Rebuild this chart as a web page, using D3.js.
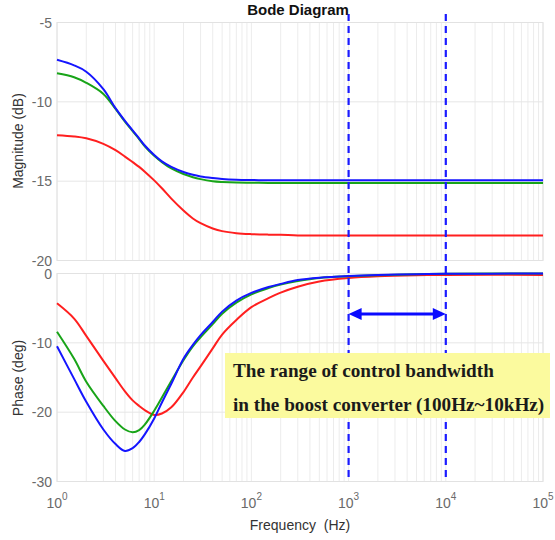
<!DOCTYPE html>
<html>
<head>
<meta charset="utf-8">
<script src="https://cdn.jsdelivr.net/npm/d3@7"></script>
<style>
  html, body { margin: 0; padding: 0; background: #fff; }
  svg { display: block; }
</style>
</head>
<body>
<svg id="chart" width="555" height="540"></svg>
<script>
// Frequency samples (Hz) shared by all three responses
const freqs = [1, 1.5, 2, 3, 4, 5, 6, 7, 8, 10, 12, 15, 20, 25, 30, 40, 50, 70, 100, 150, 200, 300, 500, 1000, 2000, 5000, 10000, 100000];

// Magnitude responses (dB)
const magBlue  = [-7.35, -7.7, -8.1, -9.2, -10.4, -11.2, -11.8, -12.3, -12.75, -13.35, -13.75, -14.1, -14.42, -14.6, -14.7, -14.8, -14.86, -14.91, -14.93, -14.94, -14.95, -14.95, -14.95, -14.95, -14.95, -14.95, -14.95, -14.95];
const magGreen = [-8.2, -8.45, -8.8, -9.5, -10.45, -11.25, -11.85, -12.35, -12.8, -13.4, -13.8, -14.2, -14.55, -14.75, -14.87, -15.0, -15.05, -15.09, -15.1, -15.11, -15.12, -15.12, -15.12, -15.12, -15.12, -15.12, -15.12, -15.12];
const magRed   = [-12.1, -12.18, -12.3, -12.65, -13.05, -13.45, -13.8, -14.1, -14.4, -14.95, -15.45, -16.1, -16.85, -17.35, -17.65, -17.98, -18.15, -18.28, -18.34, -18.37, -18.38, -18.42, -18.42, -18.42, -18.42, -18.42, -18.42, -18.42];

// Phase responses (deg)
const phBlue  = [-10.5, -15.2, -18.5, -22.5, -24.6, -25.6, -25.2, -24.3, -23.2, -20.9, -18.6, -15.9, -12.3, -10.3, -8.9, -7.0, -5.5, -3.9, -2.8, -1.95, -1.5, -0.95, -0.6, -0.35, -0.2, -0.1, -0.05, 0];
const phGreen = [-8.4, -12.3, -15.6, -19.1, -21.3, -22.5, -22.9, -22.6, -21.8, -19.8, -17.9, -15.5, -12.5, -10.5, -9.2, -7.3, -5.8, -4.2, -3.0, -2.1, -1.6, -1.1, -0.65, -0.4, -0.25, -0.12, -0.05, 0];
const phRed   = [-4.3, -6.5, -9.0, -12.6, -15.1, -17.0, -18.3, -19.1, -19.7, -20.4, -20.2, -19.3, -17.1, -15.0, -13.4, -10.8, -8.8, -6.7, -4.85, -3.55, -2.75, -1.9, -1.15, -0.65, -0.4, -0.25, -0.2, -0.2];

// Axis ticks
const decadeTicks = [1, 10, 100, 1000, 10000, 100000];
const magTicks = [-5, -10, -15, -20];
const phaseTicks = [0, -10, -20, -30];

// Control bandwidth limits (Hz)
const bandwidth = [1000, 10000];

const series = [
  { color: "#ff1f1f", mag: magRed,   ph: phRed },
  { color: "#18a418", mag: magGreen, ph: phGreen },
  { color: "#1515ff", mag: magBlue,  ph: phBlue }
];

const svg = d3.select("#chart");
const font = "Liberation Sans, Arial, sans-serif";

const x = d3.scaleLog().domain([1, 1e5]).range([57, 543]);
const yMag = d3.scaleLinear().domain([-20, -5]).range([260.5, 22.5]);
const yPh = d3.scaleLinear().domain([-30, 0]).range([481.5, 273.5]);

// minor grid positions: 1..9 per decade
const gridFreqs = [];
for (let d = 0; d < 5; d++) for (let k = 1; k <= 9; k++) gridFreqs.push(k * Math.pow(10, d));
gridFreqs.push(1e5);

function panel(y, ticks) {
  const g = svg.append("g");
  const [y0, y1] = y.range();
  g.selectAll("line.v").data(gridFreqs).enter().append("line")
    .attr("x1", d => x(d)).attr("x2", d => x(d))
    .attr("y1", y1).attr("y2", y0)
    .attr("stroke", "#ececec").attr("stroke-width", 1);
  g.selectAll("line.h").data(ticks).enter().append("line")
    .attr("x1", x(1)).attr("x2", x(1e5))
    .attr("y1", d => y(d)).attr("y2", d => y(d))
    .attr("stroke", "#e6e6e6").attr("stroke-width", 1);
  g.append("rect")
    .attr("x", x(1)).attr("y", y1)
    .attr("width", x(1e5) - x(1)).attr("height", y0 - y1)
    .attr("fill", "none").attr("stroke", "#e2e2e2").attr("stroke-width", 1);
  // y tick labels
  g.selectAll("text.t").data(ticks).enter().append("text")
    .attr("x", 52).attr("y", d => y(d) + 5)
    .attr("text-anchor", "end")
    .attr("font-family", font).attr("font-size", 14)
    .attr("fill", "#6a6a6a")
    .text(d => d);
  return g;
}

panel(yMag, magTicks);
panel(yPh, phaseTicks);

// x tick labels as powers of ten
const xl = svg.append("g");
decadeTicks.forEach(f => {
  const t = xl.append("text")
    .attr("x", x(f)).attr("y", 508)
    .attr("text-anchor", "middle")
    .attr("font-family", font).attr("font-size", 14)
    .attr("fill", "#6a6a6a");
  t.append("tspan").text("10");
  t.append("tspan").attr("font-size", 10).attr("dy", -8).text(Math.round(Math.log10(f)));
});

// curves
const curve = d3.curveCatmullRom.alpha(0.5);
const lineMag = d3.line().x((d, i) => x(freqs[i])).y(d => yMag(d)).curve(curve);
const linePh = d3.line().x((d, i) => x(freqs[i])).y(d => yPh(d)).curve(curve);
series.forEach(s => {
  svg.append("path").attr("d", lineMag(s.mag))
    .attr("fill", "none").attr("stroke", s.color).attr("stroke-width", 2);
  svg.append("path").attr("d", linePh(s.ph))
    .attr("fill", "none").attr("stroke", s.color).attr("stroke-width", 2);
});

// bandwidth markers
svg.selectAll("line.bw").data(bandwidth).enter().append("line")
  .attr("x1", d => x(d)).attr("x2", d => x(d))
  .attr("y1", 14).attr("y2", 482)
  .attr("stroke", "#1a1aff").attr("stroke-width", 2.2)
  .attr("stroke-dasharray", "7,5");

// double arrow between the bandwidth limits
const ay = 314;
const ax0 = x(bandwidth[0]), ax1 = x(bandwidth[1]);
svg.append("line")
  .attr("x1", ax0 + 8).attr("x2", ax1 - 8)
  .attr("y1", ay).attr("y2", ay)
  .attr("stroke", "#0a0aff").attr("stroke-width", 3);
svg.append("path")
  .attr("d", `M${ax0},${ay} L${ax0 + 13},${ay - 6} L${ax0 + 13},${ay + 6} Z`)
  .attr("fill", "#0a0aff");
svg.append("path")
  .attr("d", `M${ax1},${ay} L${ax1 - 13},${ay - 6} L${ax1 - 13},${ay + 6} Z`)
  .attr("fill", "#0a0aff");

// annotation box
svg.append("rect")
  .attr("x", 225).attr("y", 353).attr("width", 325).attr("height", 65)
  .attr("fill", "#fbfa9e");
const note = ["The range of control bandwidth", "in the boost converter (100Hz~10kHz)"];
svg.selectAll("text.note").data(note).enter().append("text")
  .attr("x", 233).attr("y", (d, i) => 376.5 + i * 34.5)
  .attr("font-family", "Liberation Serif, Times New Roman, serif")
  .attr("font-weight", "bold").attr("font-size", 19.2)
  .attr("fill", "#1a1a1a")
  .text(d => d);

// titles
svg.append("text")
  .attr("x", 298).attr("y", 14.5)
  .attr("text-anchor", "middle")
  .attr("font-family", font).attr("font-weight", "bold").attr("font-size", 15)
  .attr("fill", "#111")
  .text("Bode Diagram");

svg.append("text")
  .attr("x", 300).attr("y", 530)
  .attr("text-anchor", "middle")
  .attr("font-family", font).attr("font-size", 14)
  .attr("fill", "#333")
  .attr("xml:space", "preserve")
  .text("Frequency  (Hz)");

svg.append("text")
  .attr("transform", "translate(23,141) rotate(-90)")
  .attr("text-anchor", "middle")
  .attr("font-family", font).attr("font-size", 14)
  .attr("fill", "#333")
  .text("Magnitude (dB)");

svg.append("text")
  .attr("transform", "translate(23,378) rotate(-90)")
  .attr("text-anchor", "middle")
  .attr("font-family", font).attr("font-size", 14)
  .attr("fill", "#333")
  .text("Phase (deg)");
</script>
</body>
</html>
